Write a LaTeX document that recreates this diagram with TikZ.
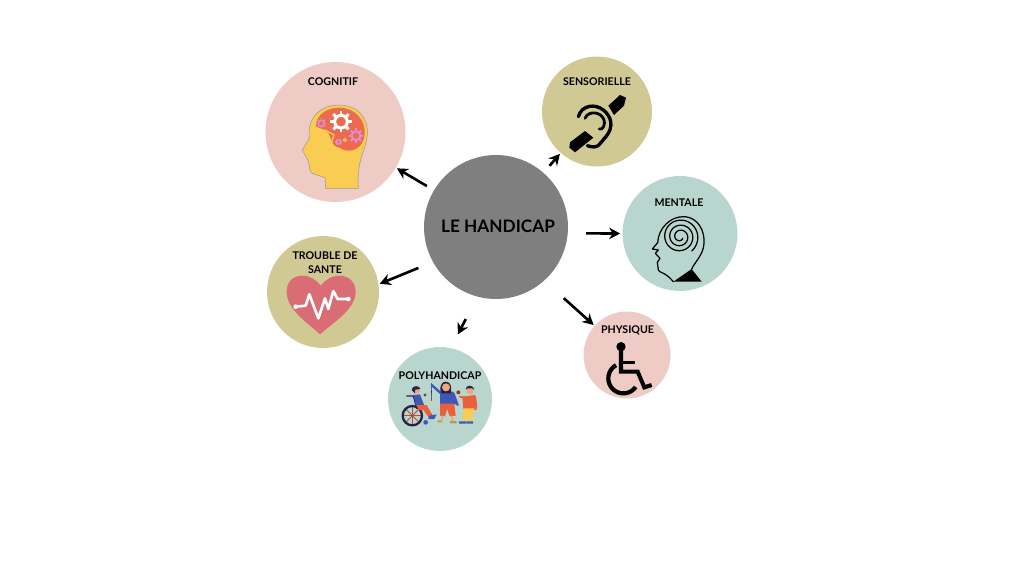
\documentclass[tikz,border=0pt]{standalone}
\usepackage{fontspec}
\setmainfont{Lato}[BoldFont={Lato Bold}]
\usetikzlibrary{arrows.meta}
\definecolor{pinkbg}{HTML}{EECBC4}
\definecolor{khakibg}{HTML}{D1C993}
\definecolor{tealbg}{HTML}{B9D6CE}
\definecolor{hubgrey}{HTML}{7F7F7F}
\definecolor{headyellow}{HTML}{F9CD52}
\definecolor{brainred}{HTML}{EC6B50}
\definecolor{gearpink}{HTML}{DE8FD0}
\definecolor{heartred}{HTML}{D96C75}
\definecolor{kidblue}{HTML}{3F57B5}
\definecolor{kidorange}{HTML}{E8603C}
\definecolor{kiddark}{HTML}{2A2245}
\definecolor{kidskin}{HTML}{F0A77E}
\tikzset{
  disc/.style={circle, inner sep=0pt, draw=none},
  tag/.style={font=\fontsize{6.05}{8}\selectfont\bfseries, align=center, text=black, inner sep=0pt},
  pointer/.style={-{Stealth[length=2.2mm,width=2.3mm]}, line width=1.5pt},
  icon/.style={line cap=round, line join=round}
}
% one cog wheel: x, y, radius, colour, ring width
\newcommand{\gearat}[5]{
  \foreach \a in {0,45,...,315}
    \draw[#4, line width=#5, line cap=butt] (#1,#2) ++(\a:#3) -- ++(\a:#3*0.7);
  \draw[#4, line width=#5] (#1,#2) circle (#3);
}
\begin{document}
\begin{tikzpicture}[x=0.02cm, y=-0.02cm]
  \useasboundingbox (0,0) rectangle (1024,576);

  % the circles
  \node[disc, fill=hubgrey, minimum size=2.88cm] (hub) at (496,227) {};
  \node[disc, fill=pinkbg, minimum size=2.8cm] (cog) at (335.5,132) {};
  \node[disc, fill=khakibg, minimum size=2.2cm] (sens) at (597,111.5) {};
  \node[disc, fill=tealbg, minimum size=2.3cm] (ment) at (680,233.5) {};
  \node[disc, fill=pinkbg, minimum size=1.74cm] (phys) at (627,355) {};
  \node[disc, fill=tealbg, minimum size=2.08cm] (poly) at (440,399) {};
  \node[disc, fill=khakibg, minimum size=2.24cm] (sante) at (323,292) {};

  % the arrows
  \draw[pointer, shorten <=1.6mm, shorten >=0.2mm] (hub) -- (cog);
  \draw[pointer, shorten <=1.8mm, shorten >=0.2mm] (hub) -- (sens);
  \draw[pointer, shorten <=3.6mm, shorten >=0.4mm] (hub.355) -- (ment.180);
  \draw[pointer, shorten <=5.2mm, shorten >=0.2mm] (hub.312) -- (phys.138);
  \draw[pointer, shorten <=5mm, shorten >=3mm] (hub.255) -- (poly.78);
  \draw[pointer, shorten <=3.1mm, shorten >=0.2mm] (hub.209) -- (sante.8);

  % cognitif
  \begin{scope}[shift={(260,55)}, scale=1/3, icon]
    \fill[headyellow, draw=black!40, line width=0.3pt] (197,400) -- (195,368) -- (165,358) .. controls (145,355) and (150,335) .. (145,318)
      -- (127,285) -- (148,250) .. controls (140,180) and (190,150) .. (235,150)
      .. controls (300,150) and (325,195) .. (322,240) .. controls (318,285) and (290,310) .. (295,400) -- cycle;
    \fill[brainred] (168,215) .. controls (165,180) and (205,156) .. (240,158) .. controls (290,160) and (318,200) .. (314,240)
      .. controls (310,280) and (270,300) .. (238,278) .. controls (210,275) and (218,240) .. (195,225) -- cycle;
    \draw[headyellow, line width=0.8pt] (195,225) -- (222,240) -- (215,262);
    \gearat{243}{200}{19}{white}{1.7pt}
    \gearat{288}{242}{13}{gearpink}{1.1pt}
    \gearat{184}{205}{9}{gearpink}{0.8pt}
    \gearat{236}{261}{6}{gearpink}{0.7pt}
    \draw[headyellow, line width=0.8pt] (255,255) circle (4);
  \end{scope}

  % sensorielle
  \begin{scope}[shift={(540,55)}, scale=1/3, icon]
    \fill (205,152) -- (240,120) -- (258,128) -- (252,152) -- (222,180) -- cycle;
    \fill (135,228) -- (160,248) -- (105,292) -- (88,278) -- (90,262) -- cycle;
    \draw[line width=1.9pt] (115,185) .. controls (125,150) and (165,145) .. (190,165) .. controls (215,185) and (222,215) .. (198,245)
      .. controls (180,262) and (178,285) .. (142,272);
    \draw[line width=1.6pt] (135,190) .. controls (145,165) and (185,170) .. (192,195) .. controls (197,215) and (185,225) .. (178,222);
  \end{scope}

  % mentale
  \begin{scope}[shift={(620,175)}, scale=1/3, icon]
    \draw[line width=0.7pt] (160,320) .. controls (135,290) and (120,295) .. (115,285) -- (112,262) -- (120,250) -- (106,235) -- (115,225) -- (97,222) -- (113,203)
      .. controls (115,160) and (150,125) .. (190,125) .. controls (235,125) and (255,170) .. (252,205) .. controls (250,240) and (225,260) .. (215,282);
    \fill (160,320) -- (215,282) -- (245,320) -- cycle;
    \draw[line width=0.7pt] plot[smooth, domain=30:1130, samples=120] ({180+(8+\x*0.042)*cos(\x)}, {185+(8+\x*0.042)*sin(\x)});
  \end{scope}

  % physique
  \begin{scope}[shift={(580,310)}, scale=1/3, icon]
    \fill (123,110) circle (14);
    \draw[line width=2.3pt, line cap=butt, line join=miter] (123,110) -- (123,185) -- (173,185) -- (193,232) -- (215,225);
    \draw[line width=2pt, line cap=butt] (123,158) -- (165,158);
    \draw[line width=2.4pt, line cap=butt] plot[smooth, domain=35:241, samples=40] ({130+45*cos(\x)}, {205+45*sin(\x)});
  \end{scope}

  % polyhandicap
  \begin{scope}[shift={(385,345)}, scale=1/3, icon]
    \foreach \a in {0,45,...,315}
      \draw[kidorange!70!kiddark, line width=0.5pt] (82,212) -- ++(\a:28);
    \draw[kiddark, line width=1.3pt] (82,212) circle (29);
    \draw[kiddark, line width=0.7pt] (65,153) -- (85,153) -- (95,190);
    \fill[kidblue] (85,150) -- (105,148) -- (118,182) -- (92,180) -- cycle;
    \fill[kidorange] (95,180) -- (125,180) -- (145,215) -- (132,218) -- (115,195) -- (100,195) -- cycle;
    \fill[kidblue] (132,212) -- (155,208) -- (148,222) -- (130,222) -- cycle;
    \fill[kidblue] (122,232) circle (7);
    \fill[kidskin] (95,136) circle (10);
    \fill[kiddark] (80,135) .. controls (80,120) and (105,120) .. (106,132) -- (90,134) -- (90,145) -- cycle;
    \fill[kidorange!60!black] (120,150) circle (5);
    \draw[kiddark, line width=0.3pt] (139,115) -- (140,168);
    \fill[headyellow] (140,171) circle (4);

    \draw[kidblue, line width=1.3pt] (140,120) -- (168,145);
    \fill[kidblue] (165,140) -- (205,140) -- (215,178) -- (165,178) -- cycle;
    \draw[kidblue, line width=1.3pt] (205,145) -- (218,180);
    \fill[kidorange] (165,176) -- (208,176) -- (212,212) -- (194,214) -- (186,192) -- (180,214) -- (165,212) -- cycle;
    \draw[kidskin, line width=1.1pt] (172,214) -- (170,228) (200,214) -- (204,228);
    \fill[headyellow!70!kiddark] (170,232) rectangle (158,226) (195,228) rectangle (215,235);
    \fill[kiddark] (182,110) .. controls (160,112) and (165,145) .. (170,145) -- (198,145) .. controls (200,125) and (198,110) .. (182,110) -- cycle;
    \fill[kidskin] (183,127) circle (12);

    \fill[kidorange] (232,155) -- (270,150) -- (275,195) -- (235,192) -- cycle;
    \draw[kidorange, line width=1.2pt] (238,158) -- (225,155) (270,155) -- (274,185);
    \fill[kidorange!60!black] (220,142) circle (6);
    \fill[headyellow] (236,190) -- (268,190) -- (262,228) -- (250,228) -- (250,205) -- (245,228) -- (232,228) -- cycle;
    \fill[kidblue] (222,229) rectangle (243,236) (245,229) rectangle (264,236);
    \fill[kidskin] (255,137) circle (11);
    \fill[kiddark] (242,134) .. controls (240,118) and (268,118) .. (268,135) -- (262,130) -- (248,130) -- cycle;
  \end{scope}

  % trouble de sante
  \begin{scope}[shift={(265,235)}, scale=1/3, icon]
    \fill[heartred] (165,298) .. controls (130,265) and (65,225) .. (65,170) .. controls (65,135) and (90,122) .. (112,122)
      .. controls (135,122) and (155,135) .. (167,152) .. controls (180,135) and (200,122) .. (222,122)
      .. controls (250,122) and (272,140) .. (272,170) .. controls (272,225) and (200,265) .. (165,298) -- cycle;
    \draw[white, line width=1.5pt] (92,215) -- (122,212) -- (133,178) -- (160,250) -- (180,190) -- (190,222) -- (205,168) -- (218,192) -- (250,192);
    \fill[white] (92,215) circle (7) (250,192) circle (7);
  \end{scope}

  % the labels
  \node[font=\fontsize{9.8}{11}\selectfont\bfseries, text=black, inner sep=0pt] (hubtag) at (498,226) {LE HANDICAP};
  \node[tag] (cogtag) at (333,81.5) {COGNITIF};
  \node[tag] (senstag) at (597,82) {SENSORIELLE};
  \node[tag] (menttag) at (679,203) {MENTALE};
  \node[tag] (phystag) at (627.5,330.5) {PHYSIQUE};
  \node[tag] (polytag) at (440,375.5) {POLYHANDICAP};
  \node[tag] (santetag) at (325,262.5) {TROUBLE DE\\SANTE};
\end{tikzpicture}
\end{document}
